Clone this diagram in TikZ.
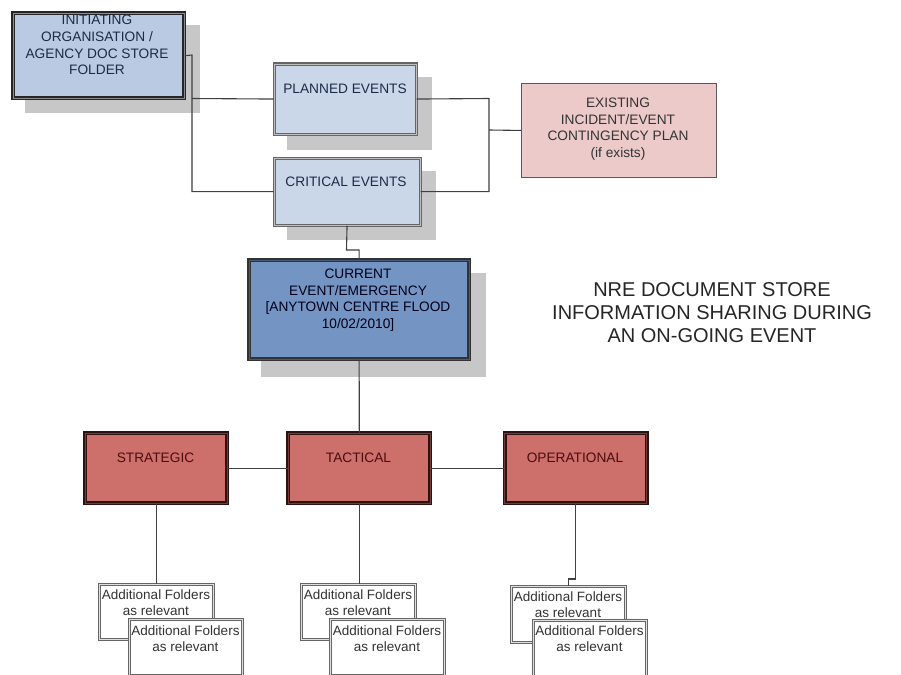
\documentclass[tikz,border=0pt]{standalone}
\usepackage{fontspec}
\setmainfont{Liberation Sans}
\begin{document}
\begin{tikzpicture}[x=1pt,y=-1pt,
  shadowbox/.style={fill=black!22, draw=none},
  basebox/.style={anchor=north west, inner sep=0pt},
  initbox/.style={basebox, fill=initfill, draw=black!85, line width=1.4pt, double=black!45, double distance=0.9pt},
  evbox/.style={basebox, fill=evfill, draw=black!60, line width=1.1pt, double=black!25, double distance=0.9pt},
  curbox/.style={basebox, fill=curfill, draw=black!80, line width=1.3pt, double=curfill!60!black, double distance=0.9pt},
  exbox/.style={basebox, fill=exfill, draw=black!65, line width=0.9pt},
  redbox/.style={basebox, fill=redfill, draw=reddark, line width=1.6pt, double=redfill!55!black, double distance=1.1pt},
  folderbox/.style={basebox, fill=white, draw=black!60, line width=0.8pt, double=black!12, double distance=1.1pt},
  boxtext/.style={inner sep=0pt, align=center, font=\fontsize{13.7}{16.6}\selectfont},
  bluetext/.style={boxtext, text=bluetxt},
  redtext/.style={boxtext, text=redtxt},
  foldertext/.style={inner sep=0pt, align=center, text=black!80, font=\fontsize{13.5}{15.8}\selectfont},
  conn/.style={draw=black!75, line width=1.1pt},
]
\definecolor{initfill}{HTML}{B9CAE2}
\definecolor{evfill}{HTML}{CAD7E9}
\definecolor{curfill}{HTML}{7495C4}
\definecolor{exfill}{HTML}{EDCACA}
\definecolor{redfill}{HTML}{CD6F6A}
\definecolor{reddark}{HTML}{2E1212}
\definecolor{bluetxt}{HTML}{1C2C48}
\definecolor{redtxt}{HTML}{4A0E0E}
\clip (0,0) rectangle (901,674);
\fill[white] (0,0) rectangle (901,674);

% shadows
\fill[shadowbox] (25,25) rectangle (200,113);
\fill[shadowbox] (287,77) rectangle (432,150);
\fill[shadowbox] (287,171) rectangle (436,240);
\fill[shadowbox] (261,273) rectangle (486,377);

% boxes
\node[initbox, minimum width=171pt, minimum height=85pt] (init) at (12.5,12.5) {};
\node[evbox, minimum width=142pt, minimum height=70pt] (pe) at (273.5,63.5) {};
\node[evbox, minimum width=146pt, minimum height=67pt] (ce) at (273.5,157.5) {};
\node[exbox, minimum width=195pt, minimum height=94pt] (ex) at (521,83) {};
\node[curbox, minimum width=220pt, minimum height=99pt] (cur) at (248.5,259.5) {};
\node[redbox, minimum width=142pt, minimum height=70pt] (str) at (84.5,432.5) {};
\node[redbox, minimum width=142pt, minimum height=70pt] (tac) at (287.5,432.5) {};
\node[redbox, minimum width=142pt, minimum height=70pt] (op) at (504,432.5) {};

\node[folderbox, minimum width=114pt, minimum height=55pt] (sf1) at (99,584) {};
\node[folderbox, minimum width=113pt, minimum height=56pt] (sf2) at (129,619) {};
\node[folderbox, minimum width=114pt, minimum height=55pt] (tf1) at (301,584) {};
\node[folderbox, minimum width=114pt, minimum height=56pt] (tf2) at (330,619) {};
\node[folderbox, minimum width=114pt, minimum height=56pt] (of1) at (511,586) {};
\node[folderbox, minimum width=113pt, minimum height=56pt] (of2) at (533,620) {};

% texts
\node[bluetext] (initT) at (97,45) {INITIATING\\ORGANISATION /\\AGENCY DOC STORE\\FOLDER};
\node[bluetext] (peT) at (345,89) {PLANNED EVENTS};
\node[bluetext] (ceT) at (346,182) {CRITICAL EVENTS};
\node[boxtext, text=black!80] (exT) at (618,129) {EXISTING\\INCIDENT/EVENT\\CONTINGENCY PLAN\\(if exists)};
\node[bluetext, text=black!90!blue] (curT) at (358,300) {CURRENT\\EVENT/EMERGENCY\\{[}ANYTOWN CENTRE FLOOD\\10/02/2010{]}};
\node[redtext] (strT) at (155.5,458) {STRATEGIC};
\node[redtext] (tacT) at (358.5,458) {TACTICAL};
\node[redtext] (opT) at (575,458) {OPERATIONAL};

\node[foldertext] (sf1T) at (156,603) {Additional Folders\\as relevant};
\node[foldertext] (sf2T) at (185.5,639) {Additional Folders\\as relevant};
\node[foldertext] (tf1T) at (358,603) {Additional Folders\\as relevant};
\node[foldertext] (tf2T) at (387,639) {Additional Folders\\as relevant};
\node[foldertext] (of1T) at (568,605) {Additional Folders\\as relevant};
\node[foldertext] (of2T) at (589.5,639) {Additional Folders\\as relevant};

\node[inner sep=0pt, align=center, text=black!85, font=\fontsize{20}{23}\selectfont] (title) at (712,313) {NRE DOCUMENT STORE\\INFORMATION SHARING DURING\\AN ON-GOING EVENT};

% connectors
\coordinate (jl) at (192,55);
\coordinate (jlp) at (192,98.5);
\coordinate (jr) at (489,98.5);
\coordinate (jre) at (489,130);
\draw[conn] (init.east) -- (jl) |- (ce.west);
\draw[conn] (jlp) -- (pe.west);
\draw[conn] (pe.east) -- (jr) |- (ce.east);
\draw[conn] (jre) -- (ex.west);
\coordinate (jc) at (346.5,250);
\draw[conn] (ce.south) -- (jc) -| (cur.north);
\draw[conn] (cur.south) -- (tac.north);
\draw[conn] (str.east) -- (tac.west);
\draw[conn] (tac.east) -- (op.west);
\draw[conn] (str.south) -- (str.south |- sf1.north);
\draw[conn] (tac.south) -- (tac.south |- tf1.north);
\coordinate (jo) at (575,579);
\draw[conn] (op.south) -- (op.south |- jo) -| (of1.north);
\end{tikzpicture}
\end{document}
